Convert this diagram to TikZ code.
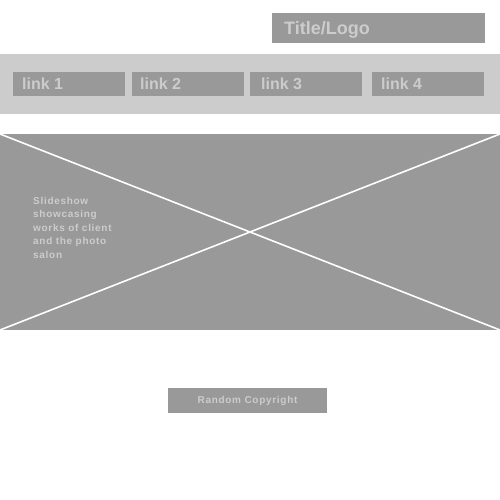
\documentclass[tikz,border=0pt]{standalone}
\usepackage{fontspec}
\setmainfont{Liberation Sans}
\newfontfamily\widefont[LetterSpace=7]{Liberation Sans}
\usepackage{xcolor}
\usetikzlibrary{positioning, calc}

\definecolor{boxgray}{HTML}{999999}
\definecolor{bandgray}{HTML}{CCCCCC}

\begin{document}
\begin{tikzpicture}[x=1pt, y=-1pt,
    block/.style={fill=boxgray, draw=none},
    linktext/.style={anchor=west, text=bandgray, font=\bfseries\fontsize{16}{18}\selectfont, inner sep=0pt}]
                    \useasboundingbox[fill=white] (0,0) rectangle (500,500);

                    % header
                    \draw[block] (272,13) rectangle (485,43) node[midway] (T) {};
                    \node[linktext, font=\bfseries\fontsize{18}{20}\selectfont] (title) at ($(T.center)-(94.5,-1.5)$) {Title/Logo};

                    % navigation
                    \draw[fill=bandgray, draw=none] (0,54) rectangle (500,114) node[midway] (nav) {};
                    \draw[block] (13,72)  rectangle (125,96) node[midway] (L1) {};
                    \draw[block] (132,72) rectangle (244,96) node[midway] (L2) {};
                    \draw[block] (250,72) rectangle (362,96) node[midway] (L3) {};
                    \draw[block] (372,72) rectangle (484,96) node[midway] (L4) {};
                    \node[linktext] () at ($(L1)-(47,0)$) {link 1};
                    \node[linktext] () at ($(L2)-(48,0)$) {link 2};
                    \node[linktext] () at ($(L3)-(45,0)$) {link 3};
                    \node[linktext] () at ($(L4)-(47,0)$) {link 4};

                    % slideshow
                    \draw[block] (0,134) rectangle (500,330) node[midway] (S) {};
                    \coordinate (snw) at (0,134);
                    \coordinate (sne) at (500,134);
                    \coordinate (ssw) at (0,330);
                    \coordinate (sse) at (500,330);
                    \draw[white, line width=1.6pt] (snw) -- (sse);
                    \draw[white, line width=1.6pt] (sne) -- (ssw);
                    \node[anchor=north west, align=left, text=bandgray, inner sep=0pt,
                          font=\widefont\bfseries\fontsize{10}{13.4}\selectfont] (caption) at (33,197)
                          {Slideshow\\showcasing\\works of client\\and the photo\\salon};

                    % footer
                    \draw[block] (168,388) rectangle (327,413) node[midway] (C) {};
                    \node[text=bandgray, font=\widefont\bfseries\fontsize{10}{12}\selectfont] (copy) at (C) {Random Copyright};
                \end{tikzpicture}
\end{document}
